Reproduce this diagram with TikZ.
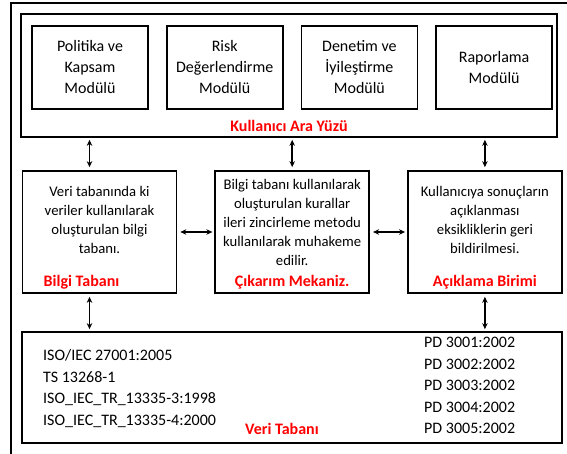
\documentclass[tikz,border=0pt]{standalone}
\usepackage{fontspec}
\setmainfont{Carlito}
\usetikzlibrary{arrows.meta,positioning}
\definecolor{lblred}{HTML}{FF0000}

\begin{document}
\begin{tikzpicture}[x=1pt,y=-1pt,
  box/.style={draw,line width=1.7pt,inner sep=0pt},
  mod/.style={box,minimum width=116pt,minimum height=83pt,
              font=\fontsize{16}{21}\selectfont,align=center},
  blk/.style={box,minimum width=154pt,minimum height=122pt},
  txt/.style={font=\fontsize{14.7}{19}\selectfont,align=center,inner sep=0pt},
  lst/.style={font=\fontsize{16}{21.6}\selectfont,align=left,inner sep=0pt,anchor=west},
  lbl/.style={font=\fontsize{16}{18}\selectfont\bfseries,text=lblred,inner sep=0pt},
  lnk/.style={{Stealth[length=6pt,width=5.5pt]}-{Stealth[length=6pt,width=5.5pt]},
              line width=1.7pt,shorten <=3pt,shorten >=2pt}
]
  \useasboundingbox (0,0) rectangle (567,454);
  % outer frame
  \draw[line width=2pt] (11,460) -- (11,3) -- (570,3);

  % user interface with its modules
  \node[box,minimum width=536pt,minimum height=123pt] (ui) at (289,75.5) {};
  \node[lbl] (uilbl) at ([yshift=12pt]ui.south) {Kullanıcı Ara Yüzü};
  \node[mod] (m1) at (90,67.5) {Politika ve\\Kapsam\\Modülü};
  \node[mod,right=17pt of m1] (m2) {Risk\\Değerlendirme\\Modülü};
  \node[mod,right=17pt of m2] (m3) {Denetim ve\\İyileştirme\\Modülü};
  \node[mod,right=17pt of m3] (m4) {Raporlama\\Modülü};

  % middle row
  \node[blk] (bt) at (99.5,232) {};
  \node[blk,right=37pt of bt] (ci) {};
  \node[blk,right=37pt of ci] (ab) {};
  \node[txt] (bttxt) at ([yshift=12pt]bt.center) {Veri tabanında ki\\veriler kullanılarak\\oluşturulan bilgi\\tabanı.};
  \node[txt] (citxt) at ([yshift=10pt]ci.center) {Bilgi tabanı kullanılarak\\oluşturulan kurallar\\ileri zincirleme metodu\\kullanılarak muhakeme\\edilir.};
  \node[txt] (abtxt) at ([yshift=12pt]ab.center) {Kullanıcıya sonuçların\\açıklanması\\eksikliklerin geri\\bildirilmesi.};
  \node[lbl] (btlbl) at ([xshift=-18pt,yshift=12pt]bt.south) {Bilgi Tabanı};
  \node[lbl] (cilbl) at ([yshift=12pt]ci.south) {Çıkarım Mekaniz.};
  \node[lbl] (ablbl) at ([yshift=12pt]ab.south) {Açıklama Birimi};

  % data base
  \node[box,minimum width=540pt,minimum height=111pt] (db) at (292,387.5) {};
  \node[lst] (isolist) at (43,388.5) {ISO/IEC 27001:2005\\TS 13268-1\\ISO\_IEC\_TR\_13335-3:1998\\ISO\_IEC\_TR\_13335-4:2000};
  \node[lst] (pdlist) at (424,385.5) {PD 3001:2002\\PD 3002:2002\\PD 3003:2002\\PD 3004:2002\\PD 3005:2002};
  \node[lbl,anchor=west] (dblbl) at (245,429) {Veri Tabanı};

  % links
  \draw[lnk] ([xshift=-10pt]bt.north) -- ([xshift=-10pt]bt.north |- ui.south);
  \draw[lnk] (ci.north) -- (ci.north |- ui.south);
  \draw[lnk] (ab.north) -- (ab.north |- ui.south);
  \draw[lnk] (bt.east) -- (ci.west);
  \draw[lnk] (ci.east) -- (ab.west);
  \draw[lnk] ([xshift=-10pt]bt.south) -- ([xshift=-10pt]bt.south |- db.north);
  \draw[lnk] (ab.south) -- (ab.south |- db.north);
\end{tikzpicture}
\end{document}
